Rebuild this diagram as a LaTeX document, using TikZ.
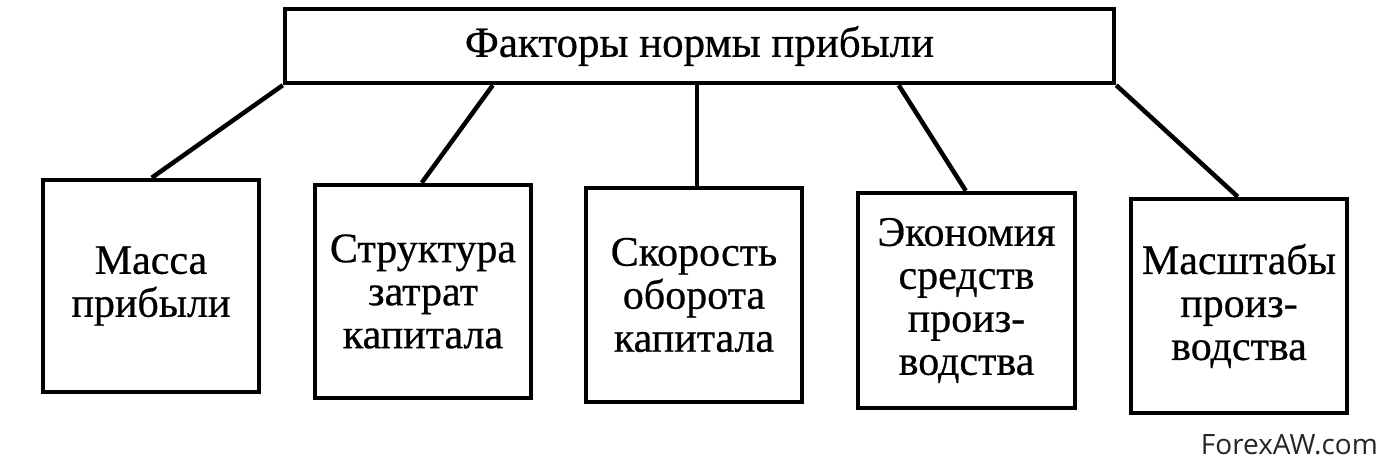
\documentclass[tikz,border=0pt]{standalone}
\usepackage{fontspec}
\setmainfont{Liberation Serif}
\newfontfamily\heavy[FakeBold=0.6]{Liberation Serif}
\newfontfamily\wmfont{Open Sans}
\tikzset{
  box/.style={draw, line width=4.5pt, inner sep=0pt, align=center, font=\heavy\fontsize{42}{43}\selectfont},
  link/.style={line width=4.5pt}
}
\begin{document}
\begin{tikzpicture}[x=1pt,y=-1pt]
\useasboundingbox (0,0) rectangle (1382,468);
\node[box, minimum width=829pt, minimum height=74pt, font=\heavy\fontsize{43}{44}\selectfont] (top) at (699.5,46) {Факторы нормы прибыли};
\node[box, minimum width=216pt, minimum height=212pt] (b1) at (151,286) {Масса\\прибыли};
\node[box, minimum width=216pt, minimum height=213pt] (b2) at (423,291.5) {Структура\\затрат\\капитала};
\node[box, minimum width=216pt, minimum height=214pt] (b3) at (694,295) {Скорость\\оборота\\капитала};
\node[box, minimum width=217pt, minimum height=215pt] (b4) at (966.5,300.5) {Экономия\\средств\\произ-\\водства};
\node[box, minimum width=216pt, minimum height=214pt] (b5) at (1239,306) {Масштабы\\произ-\\водства};
\draw[link] (top.south west) -- ([xshift=111pt]b1.north west);
\draw[link] ([xshift=210pt]top.south west) -- ([xshift=109pt]b2.north west);
\draw[link] ([xshift=414pt]top.south west) -- ([xshift=113pt]b3.north west);
\draw[link] ([xshift=616pt]top.south west) -- ([xshift=110pt]b4.north west);
\draw[link] (top.south east) -- ([xshift=109pt]b5.north west);
\node[font=\wmfont\fontsize{28}{30}\selectfont, text=black!85, anchor=east, inner sep=0pt] (wm) at (1378,445) {ForexAW.com};
\end{tikzpicture}
\end{document}
